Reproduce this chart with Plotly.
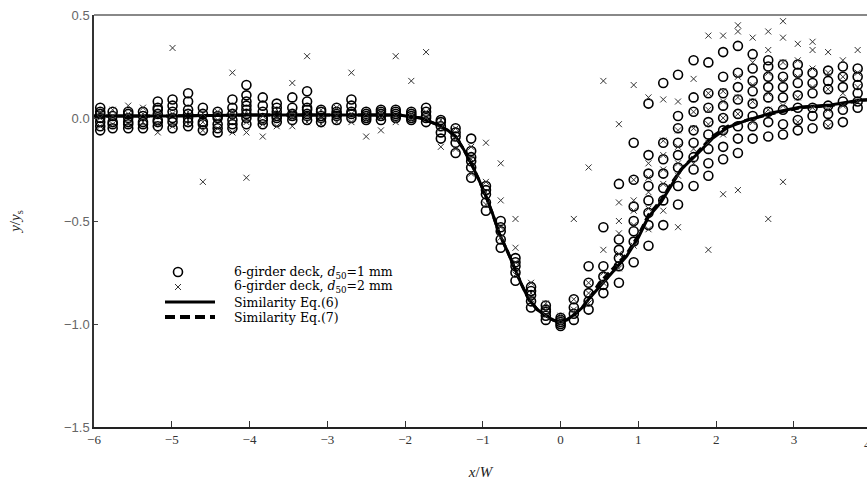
import plotly.graph_objects as go

# ---------------- data ----------------
# column positions (x/W)
left_cols = [-5.92, -5.76, -5.56, -5.37, -5.18, -4.99, -4.79, -4.60, -4.41, -4.22, -4.04, -3.83,
             -3.65, -3.45, -3.26, -3.08, -2.88, -2.69, -2.50, -2.31, -2.12, -1.92, -1.73]
mid_cols = [-1.54, -1.35, -1.15, -0.96, -0.77, -0.58, -0.38, -0.19, 0.0]
right_cols = [0.17, 0.36, 0.55, 0.75, 0.94, 1.13, 1.32, 1.51, 1.71, 1.90, 2.09, 2.28, 2.47,
              2.67, 2.86, 3.05, 3.24, 3.44, 3.63, 3.82]

# 6-girder deck, d50 = 1 mm (circles)
circ_left = [
    [-0.06, -0.04, -0.02, 0.0, 0.02, 0.03, 0.05], [-0.05, -0.03, -0.02, 0.01, 0.03],
    [-0.05, -0.03, -0.02, 0.0, 0.02, 0.03], [-0.05, -0.03, -0.02, 0.01, 0.03],
    [-0.04, -0.02, -0.01, 0.02, 0.04, 0.05, 0.08], [-0.05, -0.02, 0.0, 0.03, 0.06, 0.09],
    [-0.04, -0.02, 0.0, 0.02, 0.04, 0.08, 0.12], [-0.06, -0.03, -0.02, 0.02, 0.05],
    [-0.07, -0.05, -0.03, 0.0, 0.01, 0.03], [-0.05, -0.03, -0.01, 0.02, 0.05, 0.09],
    [-0.03, 0.0, 0.02, 0.04, 0.06, 0.08, 0.11, 0.16], [-0.03, -0.01, 0.0, 0.03, 0.06, 0.10],
    [-0.02, 0.0, 0.01, 0.03, 0.05, 0.07], [-0.01, 0.01, 0.02, 0.05, 0.10],
    [-0.01, 0.01, 0.02, 0.04, 0.05, 0.08, 0.13], [-0.02, 0.0, 0.01, 0.03, 0.04],
    [-0.01, 0.01, 0.02, 0.03, 0.05], [0.0, 0.02, 0.03, 0.06, 0.09], [-0.01, 0.0, 0.01, 0.02, 0.03],
    [-0.01, 0.01, 0.02, 0.03, 0.04], [0.0, 0.01, 0.02, 0.03, 0.04], [-0.01, 0.0, 0.01, 0.02, 0.03],
    [-0.02, 0.0, 0.01, 0.03, 0.05]]
circ_mid = [
    [-0.01, -0.02, -0.04, -0.07, -0.10], [-0.05, -0.07, -0.09, -0.12, -0.17],
    [-0.10, -0.16, -0.19, -0.21, -0.24, -0.29], [-0.33, -0.35, -0.37, -0.41, -0.45],
    [-0.50, -0.53, -0.55, -0.59, -0.63], [-0.68, -0.70, -0.72, -0.75, -0.79],
    [-0.82, -0.84, -0.86, -0.89, -0.92], [-0.91, -0.93, -0.94, -0.96, -0.98],
    [-0.97, -0.98, -0.99, -1.0, -1.01]]
circ_right = [
    [-0.98, -0.95, -0.92, -0.88], [-0.93, -0.89, -0.85, -0.80, -0.72], [-0.85, -0.81, -0.77, -0.72, -0.53],
    [-0.80, -0.72, -0.68, -0.64, -0.59, -0.32], [-0.70, -0.60, -0.55, -0.50, -0.43, -0.30, -0.12],
    [-0.62, -0.52, -0.46, -0.40, -0.33, -0.27, -0.18, 0.07], [-0.52, -0.40, -0.34, -0.27, -0.20, -0.12, 0.17],
    [-0.42, -0.33, -0.24, -0.18, -0.12, -0.05, 0.01, 0.21], [-0.33, -0.25, -0.19, -0.12, -0.06, 0.03, 0.10, 0.28],
    [-0.28, -0.22, -0.15, -0.08, -0.02, 0.05, 0.12, 0.27], [-0.20, -0.14, -0.06, 0.00, 0.06, 0.12, 0.20, 0.32],
    [-0.17, -0.10, -0.04, 0.02, 0.09, 0.15, 0.22, 0.35], [-0.10, -0.04, 0.01, 0.07, 0.13, 0.18, 0.24, 0.31],
    [-0.09, -0.02, 0.03, 0.10, 0.15, 0.20, 0.25, 0.28], [-0.08, -0.03, 0.04, 0.10, 0.15, 0.20, 0.26],
    [-0.06, -0.01, 0.05, 0.11, 0.17, 0.22, 0.26], [-0.05, 0.01, 0.05, 0.12, 0.17, 0.22],
    [-0.03, 0.02, 0.06, 0.14, 0.18, 0.23], [-0.02, 0.04, 0.08, 0.15, 0.20, 0.25],
    [0.05, 0.08, 0.12, 0.16, 0.20, 0.24]]

# 6-girder deck, d50 = 2 mm (crosses)
cross_left = [
    [-0.04, 0.0, 0.03], [-0.03, 0.01, 0.04], [-0.03, 0.02, 0.06], [-0.02, 0.02, 0.05],
    [-0.07, -0.03, 0.01], [-0.04, 0.02, 0.34], [-0.03, -0.01, 0.03], [-0.31, -0.06, -0.02, 0.02],
    [-0.05, -0.01, 0.03], [-0.07, 0.0, 0.03, 0.22], [-0.29, -0.07, -0.02, 0.03], [-0.09, -0.03, 0.01],
    [-0.04, 0.0, 0.04], [-0.04, 0.0, 0.03, 0.17], [-0.02, 0.02, 0.30], [-0.03, 0.0, 0.04],
    [-0.02, 0.01, 0.05], [-0.02, 0.02, 0.22], [-0.09, -0.01, 0.02], [-0.06, 0.0, 0.03],
    [-0.02, 0.01, 0.30], [-0.01, 0.02, 0.18], [0.0, 0.03, 0.32]]
cross_mid = [
    [-0.01, -0.05, -0.14], [-0.05, -0.10, -0.15], [-0.14, -0.20, -0.27], [-0.12, -0.31, -0.36, -0.42],
    [-0.22, -0.40, -0.53, -0.58], [-0.49, -0.63, -0.70, -0.76], [-0.80, -0.85, -0.88],
    [-0.90, -0.93, -0.96], [-0.96, -0.98, -1.0]]
cross_right = [
    [-0.49, -0.93, -0.88], [-0.24, -0.85, -0.80, -0.90], [0.18, -0.64, -0.75, -0.80],
    [-0.03, -0.41, -0.50, -0.56, -0.66, -0.73], [0.16, -0.30, -0.40, -0.45, -0.52, -0.62],
    [0.10, -0.22, -0.29, -0.36, -0.44, -0.54], [0.09, -0.11, -0.18, -0.25, -0.32, -0.45],
    [0.08, -0.06, -0.14, -0.22, -0.28, -0.53], [0.19, 0.03, -0.05, -0.15, -0.22],
    [0.40, 0.12, 0.04, -0.03, -0.12, -0.64], [0.40, 0.13, 0.08, 0.00, -0.08, -0.37],
    [0.45, 0.42, 0.20, 0.10, 0.02, -0.35], [0.39, 0.27, 0.16, 0.08, -0.02],
    [0.42, 0.33, 0.22, 0.12, 0.04, -0.49], [0.47, 0.39, 0.27, 0.18, 0.06, -0.31],
    [0.36, 0.28, 0.20, 0.10, -0.02], [0.37, 0.33, 0.24, 0.15, 0.05], [0.32, 0.22, 0.14, 0.04, -0.04],
    [0.28, 0.20, 0.12, 0.06], [0.33, 0.22, 0.15, 0.08]]

# Similarity curves
eq6_x = [-6.0, -5.0, -4.0, -3.0, -2.5, -2.08, -1.8, -1.6, -1.45, -1.35, -1.25, -1.15, -1.05, -0.96,
         -0.87, -0.79, -0.68, -0.58, -0.5, -0.41, -0.3, -0.19, -0.1, -0.03, 0.08, 0.19, 0.28, 0.36,
         0.5, 0.65, 0.85, 1.0, 1.13, 1.29, 1.42, 1.55, 1.77, 1.95, 2.15, 2.4, 2.71, 3.09, 3.47, 3.86, 4.0]
eq6_y = [0.01, 0.01, 0.015, 0.015, 0.015, 0.015, 0.0, -0.03, -0.06, -0.09, -0.15, -0.22, -0.30, -0.38,
         -0.47, -0.56, -0.65, -0.74, -0.81, -0.88, -0.93, -0.96, -0.98, -0.99, -0.98, -0.95, -0.92, -0.88,
         -0.82, -0.76, -0.67, -0.58, -0.48, -0.41, -0.33, -0.25, -0.17, -0.10, -0.045, -0.01, 0.024,
         0.053, 0.063, 0.087, 0.09]
eq7_x = [-6.0, -5.0, -4.0, -3.0, -2.5, -2.08, -1.8, -1.6, -1.45, -1.35, -1.25, -1.15, -1.05, -0.96,
         -0.87, -0.79, -0.68, -0.58, -0.5, -0.41, -0.3, -0.19, -0.1, -0.03, 0.08, 0.19, 0.28, 0.36,
         0.5, 0.65, 0.85, 1.0, 1.13, 1.29, 1.42, 1.55, 1.77, 1.95, 2.15, 2.4, 2.71, 3.09, 3.47, 3.86, 4.0]
eq7_y = [0.01, 0.01, 0.015, 0.015, 0.015, 0.015, 0.0, -0.03, -0.06, -0.09, -0.15, -0.22, -0.30, -0.38,
         -0.47, -0.56, -0.65, -0.74, -0.81, -0.88, -0.93, -0.96, -0.98, -0.99, -0.98, -0.95, -0.92, -0.88,
         -0.80, -0.74, -0.66, -0.57, -0.47, -0.40, -0.32, -0.25, -0.16, -0.09, -0.04, -0.01, 0.02,
         0.05, 0.06, 0.085, 0.09]

x_ticks = [-6, -5, -4, -3, -2, -1, 0, 1, 2, 3]
y_ticks = [0.5, 0.0, -0.5, -1.0, -1.5]

legend_labels = ["6-girder deck, <i>d</i><sub>50</sub>=1 mm",
                 "6-girder deck, <i>d</i><sub>50</sub>=2 mm",
                 "Similarity Eq.(6)",
                 "Similarity Eq.(7)"]


def flatten(cols, groups):
    xs, ys = [], []
    for c, g in zip(cols, groups):
        for v in g:
            xs.append(c)
            ys.append(v)
    return xs, ys


cx, cy = flatten(left_cols + mid_cols + right_cols, circ_left + circ_mid + circ_right)
xx, xy = flatten(left_cols + mid_cols + right_cols, cross_left + cross_mid + cross_right)

SERIF = "Liberation Serif, Times New Roman, serif"
LEGSERIF = "DejaVu Serif, Liberation Serif, serif"
CIRC = dict(symbol="circle-open", size=9, color="black", line=dict(width=1.6, color="black"))
CROSS = dict(symbol="x-thin-open", size=6, color="#333", line=dict(width=1, color="#333"))

fig = go.Figure()
fig.add_trace(go.Scatter(x=eq6_x, y=eq6_y, mode="lines", name=legend_labels[2],
                         line=dict(color="black", width=3), showlegend=False))
fig.add_trace(go.Scatter(x=eq7_x, y=eq7_y, mode="lines", name=legend_labels[3],
                         line=dict(color="black", width=3, dash="8px,4px"), showlegend=False))
fig.add_trace(go.Scatter(x=cx, y=cy, mode="markers", name=legend_labels[0],
                         marker=CIRC, showlegend=False))
fig.add_trace(go.Scatter(x=xx, y=xy, mode="markers", name=legend_labels[1],
                         marker=CROSS, showlegend=False))

# ---- hand-built legend (compact rows as in the reference) ----
PW, PH, L, B = 773.0, 412.0, 94.0, 427.0
def px(x): return (x - L) / PW
def py(y): return (B - y) / PH

row_y = [272, 287, 302, 317]
fig.add_trace(go.Scatter(x=[px(178)], y=[py(row_y[0])], mode="markers", marker=CIRC,
                         xaxis="x2", yaxis="y2", showlegend=False, hoverinfo="skip"))
fig.add_trace(go.Scatter(x=[px(178)], y=[py(row_y[1])], mode="markers", marker=CROSS,
                         xaxis="x2", yaxis="y2", showlegend=False, hoverinfo="skip"))
shapes = [
    dict(type="line", xref="paper", yref="paper", x0=0, x1=1, y0=1, y1=1,
         line=dict(color="#888", width=2)),
    dict(type="line", xref="paper", yref="paper", x0=px(165), x1=px(215), y0=py(row_y[2]),
         y1=py(row_y[2]), line=dict(color="black", width=3)),
    dict(type="line", xref="paper", yref="paper", x0=px(165), x1=px(215), y0=py(row_y[3]),
         y1=py(row_y[3]), line=dict(color="black", width=4, dash="10px,5px")),
]
annotations = [dict(text="4", xref="paper", yref="paper", x=1.0, y=0, yshift=-8,
                    xanchor="center", yanchor="top", showarrow=False,
                    font=dict(family=SERIF, size=13, color="#333"))]
for lab, ry in zip(legend_labels, row_y):
    annotations.append(dict(text=lab, xref="paper", yref="paper", x=px(232), y=py(ry),
                            xanchor="left", yanchor="middle", showarrow=False,
                            font=dict(family=LEGSERIF, size=12.5, color="black")))

fig.update_layout(
    width=867, height=485,
    margin=dict(l=94, r=0, t=15, b=58),
    plot_bgcolor="white", paper_bgcolor="white",
    showlegend=False,
    xaxis=dict(range=[-6, 3.94], tickvals=x_ticks,
               ticktext=[("\u2212" + str(-t)) if t < 0 else str(t) for t in x_ticks],
               ticks="inside", ticklen=6, tickcolor="#333", showgrid=False, zeroline=False,
               showline=True, linecolor="#222", linewidth=1.5,
               tickfont=dict(family=SERIF, size=13, color="#333"),
               title=dict(text="<i>x</i>/<i>W</i>", font=dict(family=SERIF, size=15, color="#222"),
                          standoff=20)),
    yaxis=dict(range=[-1.5, 0.5], tickvals=y_ticks,
               ticktext=[("\u2212" + f"{-t:.1f}") if t < 0 else f"{t:.1f}" for t in y_ticks],
               ticks="inside", ticklen=4, tickcolor="#444", showgrid=False, zeroline=False,
               showline=True, linecolor="#333", linewidth=1.5,
               tickfont=dict(family="Liberation Sans, Arial, sans-serif", size=13, color="#666"),
               title=dict(text="<i>y</i>/<i>y</i><sub>s</sub>",
                          font=dict(family=SERIF, size=15, color="#222"), standoff=40)),
    xaxis2=dict(overlaying="x", range=[0, 1], visible=False),
    yaxis2=dict(overlaying="y", range=[0, 1], visible=False),
    shapes=shapes,
    annotations=annotations,
)

fig.write_html("out.html")
